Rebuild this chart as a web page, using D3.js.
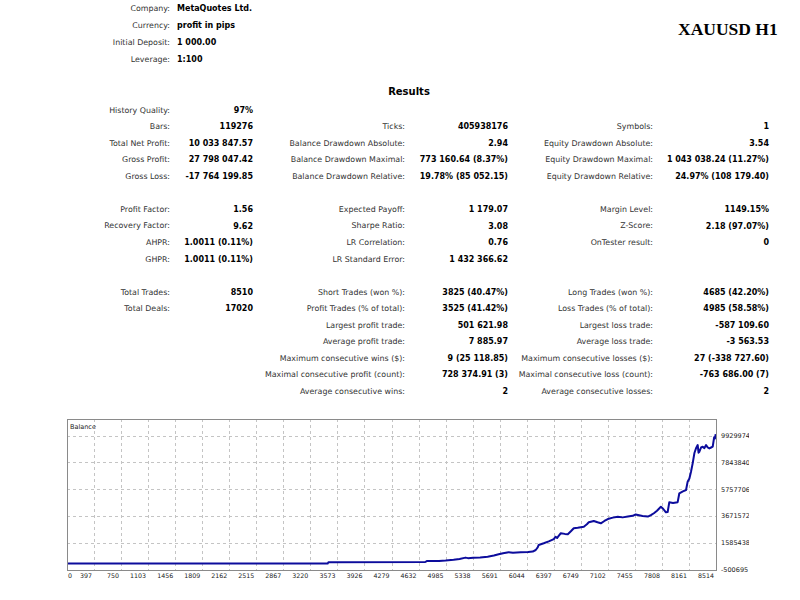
<!DOCTYPE html>
<html>
<head>
<meta charset="utf-8">
<script src="https://cdn.jsdelivr.net/npm/d3@7"></script>
<style>
  html, body { margin: 0; padding: 0; background: #fff; }
  svg { display: block; }
</style>
</head>
<body>
<svg id="chart" width="800" height="600"></svg>
<script>
// ---------------- DATA ----------------
const title = "XAUUSD H1";
const resultsTitle = "Results";

const headerLabels = ["Company:", "Currency:", "Initial Deposit:", "Leverage:"];
const headerValues = ["MetaQuotes Ltd.", "profit in pips", "1 000.00", "1:100"];

const col1Labels = ["History Quality:", "Bars:", "Total Net Profit:", "Gross Profit:", "Gross Loss:", "",
  "Profit Factor:", "Recovery Factor:", "AHPR:", "GHPR:", "",
  "Total Trades:", "Total Deals:", "", "", "", "", ""];
const col1Values = ["97%", "119276", "10 033 847.57", "27 798 047.42", "-17 764 199.85", "",
  "1.56", "9.62", "1.0011 (0.11%)", "1.0011 (0.11%)", "",
  "8510", "17020", "", "", "", "", ""];

const col2Labels = ["", "Ticks:", "Balance Drawdown Absolute:", "Balance Drawdown Maximal:", "Balance Drawdown Relative:", "",
  "Expected Payoff:", "Sharpe Ratio:", "LR Correlation:", "LR Standard Error:", "",
  "Short Trades (won %):", "Profit Trades (% of total):", "Largest profit trade:", "Average profit trade:",
  "Maximum consecutive wins ($):", "Maximal consecutive profit (count):", "Average consecutive wins:"];
const col2Values = ["", "405938176", "2.94", "773 160.64 (8.37%)", "19.78% (85 052.15)", "",
  "1 179.07", "3.08", "0.76", "1 432 366.62", "",
  "3825 (40.47%)", "3525 (41.42%)", "501 621.98", "7 885.97",
  "9 (25 118.85)", "728 374.91 (3)", "2"];

const col3Labels = ["", "Symbols:", "Equity Drawdown Absolute:", "Equity Drawdown Maximal:", "Equity Drawdown Relative:", "",
  "Margin Level:", "Z-Score:", "OnTester result:", "", "",
  "Long Trades (won %):", "Loss Trades (% of total):", "Largest loss trade:", "Average loss trade:",
  "Maximum consecutive losses ($):", "Maximal consecutive loss (count):", "Average consecutive losses:"];
const col3Values = ["", "1", "3.54", "1 043 038.24 (11.27%)", "24.97% (108 179.40)", "",
  "1149.15%", "2.18 (97.07%)", "0", "", "",
  "4685 (42.20%)", "4985 (58.58%)", "-587 109.60", "-3 563.53",
  "27 (-338 727.60)", "-763 686.00 (7)", "2"];

const chartTitle = "Balance";
const xTickLabels = [0, 397, 750, 1103, 1456, 1809, 2162, 2515, 2867, 3220, 3573, 3926, 4279, 4632,
  4985, 5338, 5691, 6044, 6397, 6749, 7102, 7455, 7808, 8161, 8514];
const yTickValues = [-500695, 1585438, 3671572, 5757706, 7843840, 9929974];

const tradeIndex = [0, 3420, 3430, 4700, 4720, 4880, 4967, 5072, 5150, 5229, 5260, 5330, 5420, 5518,
  5600, 5663, 5720, 5794, 5850, 5952, 6050, 6110, 6149, 6175, 6188, 6254, 6320, 6386, 6410, 6430,
  6450, 6478, 6530, 6570, 6610, 6648, 6700, 6780, 6820, 6845, 6911, 6960, 7003, 7050, 7095, 7160,
  7226, 7290, 7358, 7420, 7460, 7489, 7550, 7620, 7660, 7699, 7740, 7791, 7820, 7857, 7880, 7901,
  7950, 8011, 8033, 8080, 8121, 8142, 8165, 8186, 8208, 8230, 8252, 8274, 8285, 8296, 8318, 8340,
  8362, 8384, 8405, 8427, 8450, 8471, 8490, 8500, 8510];
const balance = [1000, 5000, 110000, 120000, 190000, 200000, 230000, 290000, 360000, 460000, 420000,
  440000, 470000, 530000, 620000, 720000, 800000, 880000, 840000, 870000, 900000, 930000, 1050000,
  1250000, 1440000, 1570000, 1720000, 1900000, 2080000, 1980000, 2150000, 2350000, 2300000, 2270000,
  2500000, 2740000, 2780000, 2860000, 3050000, 3200000, 3300000, 3200000, 3120000, 3300000, 3450000,
  3560000, 3630000, 3580000, 3640000, 3700000, 3800000, 3760000, 3680000, 3640000, 3750000, 3900000,
  4100000, 4400000, 4250000, 3970000, 4000000, 4750000, 4700000, 4760000, 5450000, 5600000, 5700000,
  6350000, 6600000, 7120000, 7770000, 8550000, 8940000, 9190000, 8600000, 8670000, 9000000, 9060000,
  8950000, 9190000, 9000000, 8930000, 9000000, 9060000, 9800000, 9700000, 10034848];

// ---------------- DRAW ----------------
const svg = d3.select("#chart");
const FONT = "'DejaVu Sans', Verdana, sans-serif";

svg.append("rect").attr("width", 800).attr("height", 600).attr("fill", "#fff");

// Title
svg.append("text").attr("x", 678).attr("y", 29).attr("dy", "0.35em")
  .attr("font-family", "'Liberation Serif', 'Times New Roman', serif")
  .attr("font-weight", "bold").attr("font-size", 17.5).attr("fill", "#000")
  .text(title);

// Header block
const hdrY = d3.scalePoint().domain(d3.range(headerLabels.length)).range([8.5, 59]);
const hdr = svg.append("g").attr("font-family", FONT);
hdr.selectAll("text.hl").data(headerLabels).join("text")
  .attr("x", 170).attr("y", (d, i) => hdrY(i)).attr("dy", "0.35em")
  .attr("text-anchor", "end").attr("font-size", 7.9).attr("fill", "#333").text(d => d);
hdr.selectAll("text.hv").data(headerValues).join("text")
  .attr("x", 177).attr("y", (d, i) => hdrY(i)).attr("dy", "0.35em")
  .attr("font-size", 8).attr("font-weight", "bold").attr("fill", "#000").text(d => d);

// Results title
svg.append("text").attr("x", 409).attr("y", 91).attr("dy", "0.35em")
  .attr("text-anchor", "middle").attr("font-family", FONT)
  .attr("font-weight", "bold").attr("font-size", 10).attr("fill", "#000").text(resultsTitle);

// Stats table
const rowY = d3.scaleLinear().domain([0, 17]).range([110, 391]);
const cols = [
  { labels: col1Labels, values: col1Values, lx: 170, vx: 253 },
  { labels: col2Labels, values: col2Values, lx: 405, vx: 508 },
  { labels: col3Labels, values: col3Values, lx: 653, vx: 769 }
];
const tbl = svg.append("g").attr("font-family", FONT);
cols.forEach(c => {
  const g = tbl.append("g");
  g.selectAll("text.l").data(c.labels).join("text").attr("class", "l")
    .attr("x", c.lx).attr("y", (d, i) => rowY(i)).attr("dy", "0.35em")
    .attr("text-anchor", "end").attr("font-size", 7.9).attr("fill", "#333").text(d => d);
  g.selectAll("text.v").data(c.values).join("text").attr("class", "v")
    .attr("x", c.vx).attr("y", (d, i) => rowY(i)).attr("dy", "0.35em")
    .attr("text-anchor", "end").attr("font-size", 8).attr("font-weight", "bold")
    .attr("fill", "#000").text(d => d);
});

// ---------------- Balance chart ----------------
const frame = { left: 67, right: 716, top: 419, bottom: 570 };
const xTick = d3.scalePoint().domain(xTickLabels).range([frame.left, frame.right]);
const x = d3.scaleLinear().domain([0, 8514]).range([frame.left, frame.right]);
const y = d3.scaleLinear().domain([yTickValues[0], yTickValues[yTickValues.length - 1]])
  .range([frame.bottom, 435.5]);

const ch = svg.append("g");
ch.append("rect").attr("x", frame.left).attr("y", frame.top)
  .attr("width", frame.right - frame.left).attr("height", frame.bottom - frame.top)
  .attr("fill", "#fff");

// grid vertical
ch.append("g").selectAll("line").data(xTickLabels.slice(1, -1)).join("line")
  .attr("x1", d => Math.round(xTick(d)) + 0.5).attr("x2", d => Math.round(xTick(d)) + 0.5)
  .attr("y1", frame.top).attr("y2", frame.bottom)
  .attr("stroke", "#c4c4c4").attr("stroke-width", 1).attr("stroke-dasharray", "3,3");
// grid horizontal
ch.append("g").selectAll("line").data(yTickValues.slice(1)).join("line")
  .attr("x1", frame.left).attr("x2", frame.right)
  .attr("y1", d => Math.round(y(d)) + 0.5).attr("y2", d => Math.round(y(d)) + 0.5)
  .attr("stroke", "#c4c4c4").attr("stroke-width", 1).attr("stroke-dasharray", "3,3");

// balance line
const pts = tradeIndex.map((t, i) => [t, balance[i]]);
ch.append("path").datum(pts)
  .attr("d", d3.line().x(d => x(d[0])).y(d => y(d[1])))
  .attr("fill", "none").attr("stroke", "#0c0c9c").attr("stroke-width", 2)
  .attr("stroke-linejoin", "round");

// frame border
ch.append("rect").attr("x", frame.left + 0.5).attr("y", frame.top + 0.5)
  .attr("width", frame.right - frame.left).attr("height", frame.bottom - frame.top)
  .attr("fill", "none").attr("stroke", "#8a8a8a").attr("stroke-width", 1);

ch.append("text").attr("x", 70).attr("y", 427).attr("dy", "0.35em")
  .attr("font-family", FONT).attr("font-size", 6.5).attr("fill", "#222").text(chartTitle);

// x axis labels
ch.append("g").attr("font-family", FONT).attr("font-size", 6.3).attr("fill", "#222")
  .selectAll("text").data(xTickLabels).join("text")
  .attr("x", (d, i) => i === 0 ? frame.left + 1 : xTick(d) - 2)
  .attr("y", 576).attr("dy", "0.35em")
  .attr("text-anchor", (d, i) => i === 0 ? "start" : "end")
  .text(d => d);

// y axis labels (clipped like the original)
svg.append("defs").append("clipPath").attr("id", "yclip")
  .append("rect").attr("x", 718).attr("y", 410).attr("width", 31).attr("height", 180);
ch.append("g").attr("clip-path", "url(#yclip)")
  .attr("font-family", FONT).attr("font-size", 6.5).attr("fill", "#222")
  .selectAll("text").data(yTickValues).join("text")
  .attr("x", 721).attr("y", d => y(d)).attr("dy", "0.35em")
  .text(d => d);
</script>
</body>
</html>
